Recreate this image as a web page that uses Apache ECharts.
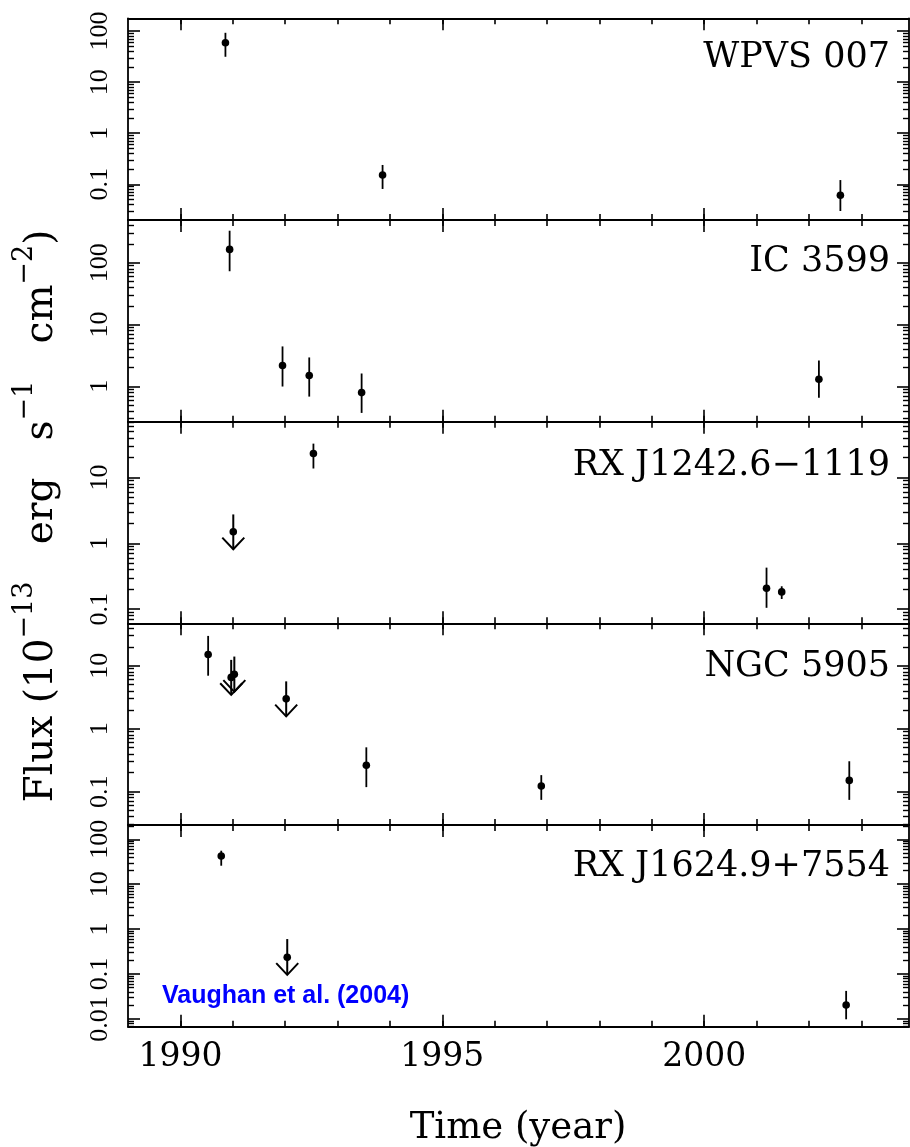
<!DOCTYPE html>
<html><head><meta charset="utf-8">
<script src="https://cdn.jsdelivr.net/npm/echarts@6/dist/echarts.min.js"></script>
<style>html,body{margin:0;padding:0;background:#fff}#c{width:910px;height:1147px}</style>
</head><body><div id="c"></div>
<script>
// ---------------- data ----------------
const panelNames = ['WPVS 007', 'IC 3599', 'RX J1242.6\u22121119', 'NGC 5905', 'RX J1624.9+7554'];
const yRanges = [[0.02, 178], [0.267, 494], [0.061, 70.5], [0.0295, 47.2], [0.0067, 208]];
const xRange = [1989, 2003.91];
const xMajorTicks = [1990, 1995, 2000];
const xMinorTicks = [1990, 1991, 1992, 1993, 1994, 1995, 1996, 1997, 1998, 1999, 2000, 2001, 2002, 2003];
const yDecades = [0.001, 0.01, 0.1, 1, 10, 100, 1000];
// detections: [year, flux, fluxLow, fluxHigh]
const wpvs007 = [[1990.86, 59, 31.4, 92.6], [1993.86, 0.152, 0.081, 0.239], [2002.60, 0.061, 0.030, 0.121]];
const ic3599 = [[1990.94, 165, 73, 331], [1991.95, 2.17, 0.99, 4.42], [1992.46, 1.49, 0.68, 2.93], [1993.46, 0.79, 0.37, 1.61], [2002.19, 1.30, 0.65, 2.62]];
const rxj1242 = [[1992.54, 23.1, 13.7, 32.7], [2001.19, 0.208, 0.105, 0.428], [2001.48, 0.183, 0.143, 0.223]];
const ngc5905 = [[1990.53, 15.1, 6.95, 29.8], [1993.55, 0.263, 0.118, 0.506], [1996.89, 0.123, 0.074, 0.183], [2002.77, 0.151, 0.074, 0.304]];
const rxj1624 = [[1990.78, 42.5, 25.8, 55.7], [2002.71, 0.0204, 0.0098, 0.042]];
// upper limits: [year, flux, fluxHigh]
const wpvs007UL = [];
const ic3599UL = [];
const rxj1242UL = [[1991.01, 1.50, 2.75]];
const ngc5905UL = [[1990.97, 6.53, 12.4], [1991.03, 7.3, 14.0], [1992.02, 2.98, 5.65]];
const rxj1624UL = [[1992.04, 0.235, 0.60]];

const detections = [wpvs007, ic3599, rxj1242, ngc5905, rxj1624];
const upperLimits = [wpvs007UL, ic3599UL, rxj1242UL, ngc5905UL, rxj1624UL];

// ---------------- layout ----------------
const FONT = 'DejaVu Serif';
const gridLeft = 128, gridWidth = 781, gridTop0 = 18.3, gridH = 201.68;
const MAJ = 12, MIN = 6, LW = 1.8;

const grids = [], xAxes = [], yAxes = [], series = [];
const lg = v => Math.log10(v);

function minorDecadeTicks(r) {
  const out = [];
  yDecades.forEach(d => { for (let m = 2; m <= 9; m++) { const v = +(m * d).toPrecision(6); if (v > r[0] && v < r[1]) out.push(v); } });
  return out;
}

function xDeco(i, pos, ticks, len, showLine) {
  return {
    type: 'value', gridIndex: i, position: pos, min: xRange[0], max: xRange[1],
    axisLine: { show: showLine, onZero: false, lineStyle: { color: '#000', width: LW } },
    axisTick: { show: true, inside: true, length: len, customValues: ticks, lineStyle: { color: '#000', width: 1.6 } },
    axisLabel: { show: false }, splitLine: { show: false }
  };
}

for (let i = 0; i < 5; i++) {
  grids.push({ left: gridLeft, width: gridWidth, top: gridTop0 + i * gridH, height: gridH, outerBoundsMode: 'none', containLabel: false });
  const xBase = xAxes.length, yBase = yAxes.length;
  const r = yRanges[i];
  const majors = yDecades.filter(v => v >= r[0] && v <= r[1]);
  const minors = minorDecadeTicks(r);
  const last = i === 4;
  // main data axes
  xAxes.push({
    type: 'value', gridIndex: i, position: 'bottom', min: xRange[0], max: xRange[1],
    axisLine: { show: true, onZero: false, lineStyle: { color: '#000', width: LW } },
    axisTick: { show: true, inside: true, length: MAJ, customValues: xMajorTicks, lineStyle: { color: '#000', width: 1.6 } },
    axisLabel: { show: last, customValues: xMajorTicks, margin: 14, color: '#000', fontFamily: FONT, fontSize: 33, formatter: v => String(Math.round(v)) },
    splitLine: { show: false }
  });
  yAxes.push({
    type: 'log', logBase: 10, gridIndex: i, position: 'left', min: r[0], max: r[1],
    axisLine: { show: true, onZero: false, lineStyle: { color: '#000', width: LW } },
    axisTick: { show: false },
    axisLabel: { show: true, customValues: majors, rotate: 90, margin: 15, color: '#000', fontFamily: 'Liberation Serif', fontSize: 26, hideOverlap: false,
      formatter: v => String(parseFloat((+v).toPrecision(6))) },
    splitLine: { show: false }
  });
  // decoration axes
  xAxes.push(xDeco(i, 'bottom', xMinorTicks, MIN, false));
  xAxes.push(xDeco(i, 'top', xMajorTicks, MAJ, true));
  xAxes.push(xDeco(i, 'top', xMinorTicks, MIN, false));
  ['left', 'right'].forEach(pos => {
    yAxes.push({
      type: 'value', gridIndex: i, position: pos, min: lg(r[0]), max: lg(r[1]),
      axisLine: { show: pos === 'right', onZero: false, lineStyle: { color: '#000', width: LW } },
      axisTick: { show: true, inside: true, length: MAJ, customValues: majors.map(lg), lineStyle: { color: '#000', width: 1.6 } },
      axisLabel: { show: false }, splitLine: { show: false }
    });
    yAxes.push({
      type: 'value', gridIndex: i, position: pos, min: lg(r[0]), max: lg(r[1]),
      axisLine: { show: false, onZero: false },
      axisTick: { show: true, inside: true, length: MIN, customValues: minors.map(lg), lineStyle: { color: '#000', width: 1.4 } },
      axisLabel: { show: false }, splitLine: { show: false }
    });
  });

  series.push({
    type: 'custom', xAxisIndex: xBase, yAxisIndex: yBase, data: detections[i], silent: true, clip: false,
    renderItem: (params, api) => {
      const x = api.value(0);
      const p = api.coord([x, api.value(1)]);
      const lo = api.coord([x, api.value(2)]);
      const hi = api.coord([x, api.value(3)]);
      return { type: 'group', children: [
        { type: 'line', shape: { x1: p[0], y1: lo[1], x2: p[0], y2: hi[1] }, style: { stroke: '#000', lineWidth: 1.8 } },
        { type: 'circle', shape: { cx: p[0], cy: p[1], r: 3.8 }, style: { fill: '#000' } }
      ] };
    }
  });
  series.push({
    type: 'custom', xAxisIndex: xBase, yAxisIndex: yBase, data: upperLimits[i], silent: true, clip: false,
    renderItem: (params, api) => {
      const x = api.value(0);
      const p = api.coord([x, api.value(1)]);
      const hi = api.coord([x, api.value(2)]);
      const tip = p[1] + 17.5;
      return { type: 'group', children: [
        { type: 'line', shape: { x1: p[0], y1: hi[1], x2: p[0], y2: tip }, style: { stroke: '#000', lineWidth: 2 } },
        { type: 'polyline', shape: { points: [[p[0] - 11, tip - 11.7], [p[0], tip], [p[0] + 11, tip - 11.7]] }, style: { stroke: '#000', lineWidth: 2, fill: null } },
        { type: 'circle', shape: { cx: p[0], cy: p[1], r: 3.8 }, style: { fill: '#000' } }
      ] };
    }
  });
}

const labelYs = [58, 262, 466, 667, 867];
const graphics = panelNames.map((t, i) => ({
  type: 'text', x: 890, y: labelYs[i],
  style: { text: t, font: '35px "DejaVu Serif"', fill: '#000', align: 'right', verticalAlign: 'middle' }
}));
graphics.push({
  type: 'text', x: 36, y: 516, rotation: Math.PI / 2,
  style: {
    text: '{a|Flux (10}{s|\u221213}{a|   erg   s}{s|\u22121}{a|   cm}{s|\u22122}{a|)}',
    align: 'center', verticalAlign: 'middle', fill: '#000',
    rich: {
      a: { fontFamily: FONT, fontSize: 39, fill: '#000', lineHeight: 50, verticalAlign: 'bottom' },
      s: { fontFamily: FONT, fontSize: 27, fill: '#000', lineHeight: 50, verticalAlign: 'top' }
    }
  }
});
graphics.push({
  type: 'text', x: 518, y: 1128,
  style: { text: 'Time (year)', font: '37px "DejaVu Serif"', fill: '#000', align: 'center', verticalAlign: 'middle' }
});
graphics.push({
  type: 'text', x: 162, y: 996,
  style: { text: 'Vaughan et al. (2004)', font: 'bold 25px "Liberation Sans"', fill: '#0000ff', align: 'left', verticalAlign: 'middle' }
});

const chart = echarts.init(document.getElementById('c'), null, { renderer: 'canvas' });
chart.setOption({
  animation: false,
  backgroundColor: '#fff',
  grid: grids, xAxis: xAxes, yAxis: yAxes, series: series, graphic: graphics
});
</script>
</body></html>
